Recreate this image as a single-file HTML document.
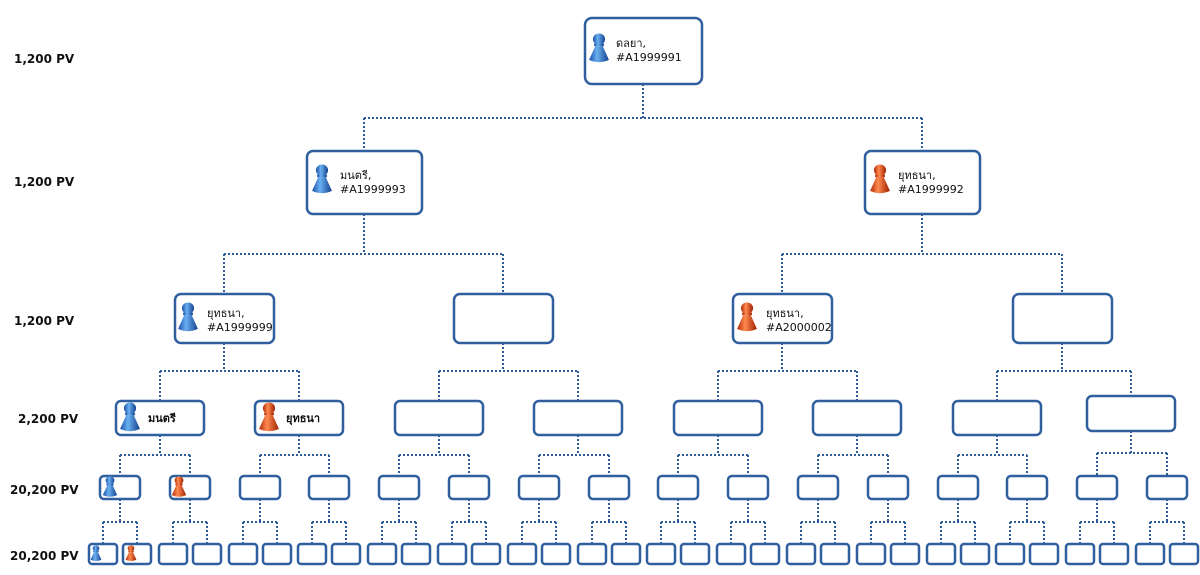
<!DOCTYPE html>
<html><head><meta charset="utf-8"><style>
html,body{margin:0;padding:0;background:#fff;}
svg{display:block;}
.lbl{font-family:"DejaVu Sans","Liberation Sans",sans-serif;font-weight:bold;font-size:12px;fill:#111;}
.t{font-family:"DejaVu Sans","Liberation Sans",sans-serif;font-size:11px;fill:#111;}
</style></head><body>
<svg id="s" width="1200" height="575" viewBox="0 0 1200 575" xmlns="http://www.w3.org/2000/svg">
<defs>
<linearGradient id="gb" x1="0" x2="1"><stop offset="0" stop-color="#1a4fa8"/><stop offset="0.4" stop-color="#6ab0f0"/><stop offset="1" stop-color="#12408f"/></linearGradient>
<linearGradient id="gr" x1="0" x2="1"><stop offset="0" stop-color="#b02a08"/><stop offset="0.4" stop-color="#ff8a50"/><stop offset="1" stop-color="#a02000"/></linearGradient>
<symbol id="pb" viewBox="0 0 20 30" preserveAspectRatio="none"><circle cx="10" cy="6" r="5.5" fill="url(#gb)"/><rect x="5.5" y="10" width="9" height="3" rx="1" fill="url(#gb)"/><path d="M6.5 13 L13.5 13 L19 26 Q10 30.5 1 26 Z" fill="url(#gb)"/></symbol>
<symbol id="pr" viewBox="0 0 20 30" preserveAspectRatio="none"><circle cx="10" cy="6" r="5.5" fill="url(#gr)"/><rect x="5.5" y="10" width="9" height="3" rx="1" fill="url(#gr)"/><path d="M6.5 13 L13.5 13 L19 26 Q10 30.5 1 26 Z" fill="url(#gr)"/></symbol>
</defs>
<g id="lines" fill="none" stroke="#2d5c9c" stroke-width="2" stroke-dasharray="2,2"></g>
<g id="boxes" fill="#fff" stroke="#2f5f9e" stroke-width="2.5"></g>
<g id="icons">
<use href="#pb" x="588" y="33" width="22" height="31"/>
<use href="#pb" x="311" y="164" width="22" height="31"/>
<use href="#pr" x="869" y="164" width="22" height="31"/>
<use href="#pb" x="177" y="302" width="22" height="31"/>
<use href="#pr" x="736" y="302" width="22" height="31"/>
<use href="#pb" x="119" y="402" width="22" height="31"/>
<use href="#pr" x="258" y="402" width="22" height="31"/>
<use href="#pb" x="102" y="476" width="16" height="22"/>
<use href="#pr" x="171" y="476" width="16" height="22"/>
<use href="#pb" x="90" y="545" width="12" height="17"/>
<use href="#pr" x="125" y="545" width="12" height="17"/>
</g>
<g>
<text class="lbl" x="14" y="63">1,200 PV</text>
<text class="lbl" x="14" y="186">1,200 PV</text>
<text class="lbl" x="14" y="325">1,200 PV</text>
<text class="lbl" x="18" y="423">2,200 PV</text>
<text class="lbl" x="10" y="494">20,200 PV</text>
<text class="lbl" x="10" y="560">20,200 PV</text>
<text class="t" x="616" y="47">ดลยา,</text><text class="t" x="616" y="61">#A1999991</text>
<text class="t" x="340" y="179">มนตรี,</text><text class="t" x="340" y="193">#A1999993</text>
<text class="t" x="898" y="179">ยุทธนา,</text><text class="t" x="898" y="193">#A1999992</text>
<text class="t" x="207" y="317">ยุทธนา,</text><text class="t" x="207" y="331">#A1999999</text>
<text class="t" x="766" y="317">ยุทธนา,</text><text class="t" x="766" y="331">#A2000002</text>
<text class="t" x="148" y="422" font-weight="bold">มนตรี</text>
<text class="t" x="286" y="422" font-weight="bold">ยุทธนา</text>
</g>
</svg>
<script>
var L=document.getElementById('lines'),B=document.getElementById('boxes'),ns='http://www.w3.org/2000/svg';
function line(d){var p=document.createElementNS(ns,'path');p.setAttribute('d',d);L.appendChild(p);}
function box(x,y,w,h,r){var e=document.createElementNS(ns,'rect');e.setAttribute('x',x);e.setAttribute('y',y);e.setAttribute('width',w);e.setAttribute('height',h);e.setAttribute('rx',r);B.appendChild(e);}
function fork(c,y0,yh,y1,a,b){line('M'+c+' '+y0+'V'+yh+'M'+a+' '+yh+'H'+b+'M'+a+' '+yh+'V'+y1+'M'+b+' '+yh+'V'+y1);}
box(585,18,117,66,7);
fork(643,84,118,151,364,922);
var l1=[364,922];l1.forEach(function(c){box(c-57,151,115,63,6);});
var l2=[224,503,782,1062];
fork(364,214,254,294,224,503);fork(922,214,254,294,782,1062);
l2.forEach(function(c){box(c-49,294,99,49,6);});
var l3=[160,299,439,578,718,857,997,1131];
for(var i=0;i<3;i++)fork(l2[i],343,371,401,l3[2*i],l3[2*i+1]);
line('M1062 343V371M997 371H1131M997 371V401M1131 371V396');
l3.forEach(function(c,i){if(i==7)box(c-44,396,88,35,5);else box(c-44,401,88,34,5);});
var l4=[];for(var i=0;i<16;i++)l4.push(Math.round(120+69.8*i));
for(var i=0;i<7;i++)fork(l3[i],435,455,476,l4[2*i],l4[2*i+1]);
fork(l3[7],431,453,476,l4[14],l4[15]);
l4.forEach(function(c){box(c-20,476,40,23,4);});
l4.forEach(function(c){fork(c,499,522,544,c-17,c+17);box(c-31,544,28,20,3);box(c+3,544,28,20,3);});
</script>
</body></html>
